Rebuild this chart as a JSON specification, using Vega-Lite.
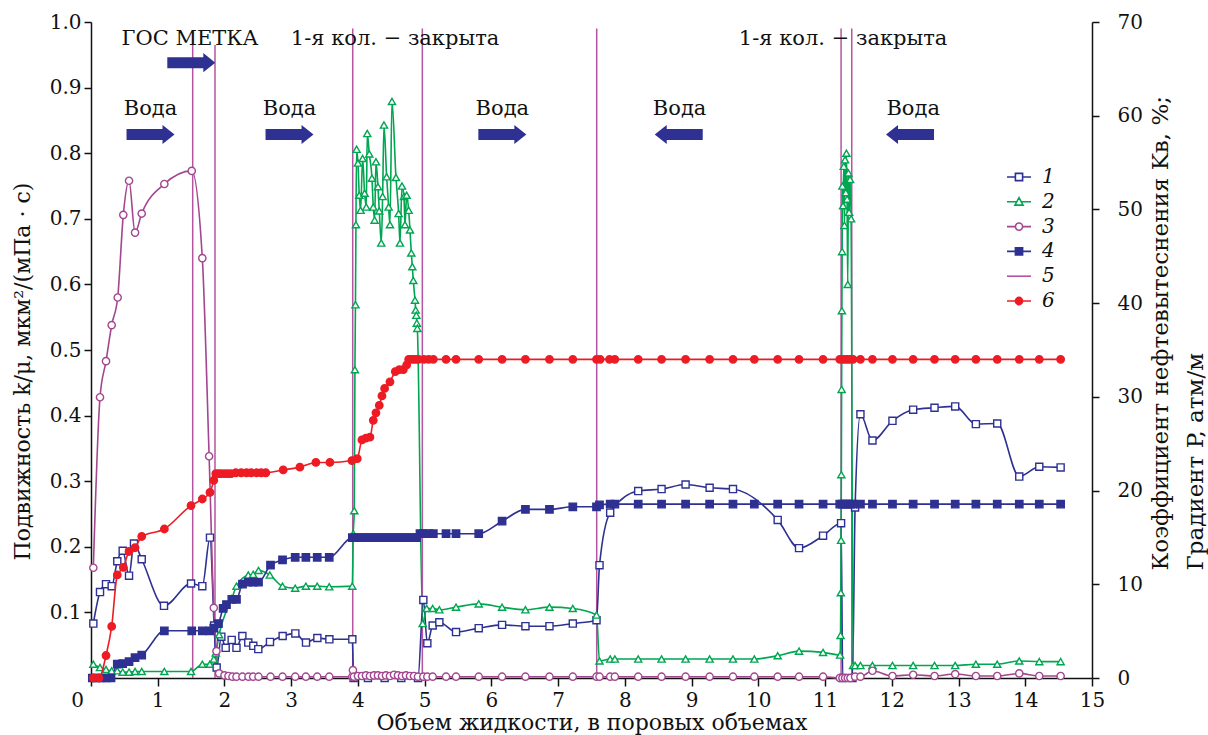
{
  "$schema": "https://vega.github.io/schema/vega-lite/v6.json",
  "width": 1001,
  "height": 656,
  "autosize": {"type": "none"},
  "padding": {"left": 91, "top": 22, "right": 116, "bottom": 57},
  "background": "white",
  "config": {
    "view": {"stroke": null},
    "font": "DejaVu Serif",
    "axis": {"grid": false, "domainColor": "#111", "tickColor": "#111", "domainWidth": 1.5, "tickWidth": 1.5, "labelColor": "#111", "titleColor": "#111", "labelFont": "DejaVu Serif", "titleFont": "DejaVu Serif", "labelFontSize": 20, "titleFontSize": 22, "titleFontWeight": "normal", "labelOverlap": false, "labelFlush": false}
  },
  "datasets": {
    "pts": [
      {"s":"1","x":0.035,"v":0.083},{"s":"1","x":0.135,"v":0.131},{"s":"1","x":0.225,"v":0.143},{"s":"1","x":0.31,"v":0.14},{"s":"1","x":0.394,"v":0.178},{"s":"1","x":0.475,"v":0.194},{"s":"1","x":0.57,"v":0.156},{"s":"1","x":0.644,"v":0.205},{"s":"1","x":0.76,"v":0.181},{"s":"1","x":1.094,"v":0.11},{"s":"1","x":1.499,"v":0.144},{"s":"1","x":1.668,"v":0.14},{"s":"1","x":1.783,"v":0.214},{"s":"1","x":1.845,"v":0.08},{"s":"1","x":1.883,"v":0.016},{"s":"1","x":1.953,"v":0.063},{"s":"1","x":2.018,"v":0.046},{"s":"1","x":2.108,"v":0.058},{"s":"1","x":2.18,"v":0.046},{"s":"1","x":2.268,"v":0.064},{"s":"1","x":2.357,"v":0.054},{"s":"1","x":2.432,"v":0.049},{"s":"1","x":2.507,"v":0.044},{"s":"1","x":2.682,"v":0.055},{"s":"1","x":2.872,"v":0.064},{"s":"1","x":3.062,"v":0.068},{"s":"1","x":3.222,"v":0.054},{"s":"1","x":3.392,"v":0.061},{"s":"1","x":3.572,"v":0.059},{"s":"1","x":3.916,"v":0.059},{"s":"1","x":3.935,"v":0},{"s":"1","x":4.15,"v":0},{"s":"1","x":4.4,"v":0},{"s":"1","x":4.65,"v":0},{"s":"1","x":4.9,"v":0},{"s":"1","x":4.98,"v":0.119},{"s":"1","x":5.04,"v":0.053},{"s":"1","x":5.12,"v":0.08},{"s":"1","x":5.22,"v":0.085},{"s":"1","x":5.47,"v":0.07},{"s":"1","x":5.81,"v":0.076},{"s":"1","x":6.16,"v":0.081},{"s":"1","x":6.51,"v":0.079},{"s":"1","x":6.87,"v":0.079},{"s":"1","x":7.22,"v":0.083},{"s":"1","x":7.575,"v":0.088},{"s":"1","x":7.62,"v":0.172},{"s":"1","x":7.78,"v":0.252},{"s":"1","x":8.2,"v":0.285},{"s":"1","x":8.55,"v":0.288},{"s":"1","x":8.91,"v":0.295},{"s":"1","x":9.27,"v":0.29},{"s":"1","x":9.62,"v":0.288},{"s":"1","x":10.29,"v":0.241},{"s":"1","x":10.61,"v":0.198},{"s":"1","x":10.97,"v":0.217},{"s":"1","x":11.24,"v":0.236},{"s":"1","x":11.265,"v":0},{"s":"1","x":11.41,"v":0},{"s":"1","x":11.45,"v":0.26},{"s":"1","x":11.53,"v":0.402},{"s":"1","x":11.71,"v":0.362},{"s":"1","x":12.01,"v":0.392},{"s":"1","x":12.32,"v":0.409},{"s":"1","x":12.64,"v":0.412},{"s":"1","x":12.95,"v":0.414},{"s":"1","x":13.26,"v":0.387},{"s":"1","x":13.58,"v":0.388},{"s":"1","x":13.91,"v":0.307},{"s":"1","x":14.21,"v":0.322},{"s":"1","x":14.53,"v":0.321},

      {"s":"2","x":0.035,"v":0.021},{"s":"2","x":0.135,"v":0.016},{"s":"2","x":0.225,"v":0.013},{"s":"2","x":0.31,"v":0.011},{"s":"2","x":0.394,"v":0.011},{"s":"2","x":0.475,"v":0.009},{"s":"2","x":0.57,"v":0.009},{"s":"2","x":0.66,"v":0.01},{"s":"2","x":0.76,"v":0.01},{"s":"2","x":1.099,"v":0.01},{"s":"2","x":1.499,"v":0.01},{"s":"2","x":1.668,"v":0.021},{"s":"2","x":1.78,"v":0.021},{"s":"2","x":1.84,"v":0.029},{"s":"2","x":1.87,"v":0.038},{"s":"2","x":1.92,"v":0.066},{"s":"2","x":2.11,"v":0.121},{"s":"2","x":2.18,"v":0.14},{"s":"2","x":2.357,"v":0.157},{"s":"2","x":2.43,"v":0.158},{"s":"2","x":2.51,"v":0.164},{"s":"2","x":2.68,"v":0.157},{"s":"2","x":2.87,"v":0.14},{"s":"2","x":3.06,"v":0.137},{"s":"2","x":3.22,"v":0.14},{"s":"2","x":3.39,"v":0.14},{"s":"2","x":3.57,"v":0.139},{"s":"2","x":3.915,"v":0.14},{"s":"2","x":3.93,"v":0.22},{"s":"2","x":3.945,"v":0.255},{"s":"2","x":3.955,"v":0.47},{"s":"2","x":3.963,"v":0.569},{"s":"2","x":3.97,"v":0.691},{"s":"2","x":3.98,"v":0.806},{"s":"2","x":4.0,"v":0.785},{"s":"2","x":4.02,"v":0.736},{"s":"2","x":4.04,"v":0.713},{"s":"2","x":4.07,"v":0.792},{"s":"2","x":4.1,"v":0.739},{"s":"2","x":4.125,"v":0.718},{"s":"2","x":4.14,"v":0.83},{"s":"2","x":4.17,"v":0.799},{"s":"2","x":4.21,"v":0.762},{"s":"2","x":4.23,"v":0.718},{"s":"2","x":4.25,"v":0.698},{"s":"2","x":4.27,"v":0.787},{"s":"2","x":4.3,"v":0.749},{"s":"2","x":4.32,"v":0.712},{"s":"2","x":4.35,"v":0.663},{"s":"2","x":4.37,"v":0.734},{"s":"2","x":4.39,"v":0.843},{"s":"2","x":4.43,"v":0.764},{"s":"2","x":4.46,"v":0.718},{"s":"2","x":4.48,"v":0.691},{"s":"2","x":4.51,"v":0.879},{"s":"2","x":4.57,"v":0.763},{"s":"2","x":4.61,"v":0.708},{"s":"2","x":4.63,"v":0.663},{"s":"2","x":4.66,"v":0.75},{"s":"2","x":4.69,"v":0.734},{"s":"2","x":4.705,"v":0.691},{"s":"2","x":4.73,"v":0.736},{"s":"2","x":4.76,"v":0.713},{"s":"2","x":4.78,"v":0.683},{"s":"2","x":4.8,"v":0.648},{"s":"2","x":4.815,"v":0.627},{"s":"2","x":4.83,"v":0.606},{"s":"2","x":4.855,"v":0.576},{"s":"2","x":4.865,"v":0.561},{"s":"2","x":4.875,"v":0.553},{"s":"2","x":4.882,"v":0.541},{"s":"2","x":4.89,"v":0.533},{"s":"2","x":4.97,"v":0.083},{"s":"2","x":5.03,"v":0.106},{"s":"2","x":5.12,"v":0.106},{"s":"2","x":5.22,"v":0.104},{"s":"2","x":5.47,"v":0.108},{"s":"2","x":5.81,"v":0.113},{"s":"2","x":6.16,"v":0.108},{"s":"2","x":6.51,"v":0.104},{"s":"2","x":6.87,"v":0.108},{"s":"2","x":7.22,"v":0.106},{"s":"2","x":7.575,"v":0.096},{"s":"2","x":7.62,"v":0.026},{"s":"2","x":7.78,"v":0.029},{"s":"2","x":7.85,"v":0.029},{"s":"2","x":8.2,"v":0.029},{"s":"2","x":8.55,"v":0.029},{"s":"2","x":8.91,"v":0.029},{"s":"2","x":9.27,"v":0.029},{"s":"2","x":9.62,"v":0.029},{"s":"2","x":9.94,"v":0.029},{"s":"2","x":10.29,"v":0.034},{"s":"2","x":10.61,"v":0.041},{"s":"2","x":10.97,"v":0.039},{"s":"2","x":11.225,"v":0.035},{"s":"2","x":11.232,"v":0.065},{"s":"2","x":11.236,"v":0.13},{"s":"2","x":11.24,"v":0.21},{"s":"2","x":11.244,"v":0.31},{"s":"2","x":11.248,"v":0.44},{"s":"2","x":11.252,"v":0.56},{"s":"2","x":11.256,"v":0.65},{"s":"2","x":11.26,"v":0.75},{"s":"2","x":11.27,"v":0.72},{"s":"2","x":11.28,"v":0.78},{"s":"2","x":11.29,"v":0.69},{"s":"2","x":11.3,"v":0.79},{"s":"2","x":11.31,"v":0.74},{"s":"2","x":11.32,"v":0.8},{"s":"2","x":11.33,"v":0.73},{"s":"2","x":11.34,"v":0.6},{"s":"2","x":11.35,"v":0.77},{"s":"2","x":11.36,"v":0.71},{"s":"2","x":11.375,"v":0.76},{"s":"2","x":11.39,"v":0.7},{"s":"2","x":11.42,"v":0.019},{"s":"2","x":11.45,"v":0.019},{"s":"2","x":11.53,"v":0.019},{"s":"2","x":11.71,"v":0.019},{"s":"2","x":12.01,"v":0.019},{"s":"2","x":12.32,"v":0.019},{"s":"2","x":12.64,"v":0.019},{"s":"2","x":12.95,"v":0.019},{"s":"2","x":13.26,"v":0.021},{"s":"2","x":13.58,"v":0.021},{"s":"2","x":13.91,"v":0.026},{"s":"2","x":14.21,"v":0.025},{"s":"2","x":14.53,"v":0.025},

      {"s":"3","x":0.035,"v":0.168},{"s":"3","x":0.135,"v":0.428},{"s":"3","x":0.225,"v":0.483},{"s":"3","x":0.31,"v":0.538},{"s":"3","x":0.4,"v":0.58},{"s":"3","x":0.484,"v":0.706},{"s":"3","x":0.57,"v":0.758},{"s":"3","x":0.66,"v":0.679},{"s":"3","x":0.76,"v":0.708},{"s":"3","x":1.099,"v":0.753},{"s":"3","x":1.51,"v":0.773},{"s":"3","x":1.668,"v":0.64},{"s":"3","x":1.77,"v":0.338},{"s":"3","x":1.84,"v":0.107},{"s":"3","x":1.88,"v":0.041},{"s":"3","x":1.92,"v":0.007},{"s":"3","x":2.0,"v":0.004},{"s":"3","x":2.06,"v":0.003},{"s":"3","x":2.12,"v":0.002},{"s":"3","x":2.18,"v":0.002},{"s":"3","x":2.27,"v":0.002},{"s":"3","x":2.36,"v":0.002},{"s":"3","x":2.43,"v":0.002},{"s":"3","x":2.51,"v":0.002},{"s":"3","x":2.69,"v":0.002},{"s":"3","x":2.87,"v":0.002},{"s":"3","x":3.06,"v":0.002},{"s":"3","x":3.22,"v":0.002},{"s":"3","x":3.39,"v":0.002},{"s":"3","x":3.57,"v":0.002},{"s":"3","x":3.915,"v":0.002},{"s":"3","x":3.925,"v":0.012},{"s":"3","x":3.94,"v":0.002},{"s":"3","x":4.0,"v":0.003},{"s":"3","x":4.06,"v":0.003},{"s":"3","x":4.12,"v":0.004},{"s":"3","x":4.18,"v":0.003},{"s":"3","x":4.24,"v":0.004},{"s":"3","x":4.3,"v":0.004},{"s":"3","x":4.36,"v":0.003},{"s":"3","x":4.42,"v":0.004},{"s":"3","x":4.48,"v":0.003},{"s":"3","x":4.54,"v":0.005},{"s":"3","x":4.6,"v":0.004},{"s":"3","x":4.66,"v":0.003},{"s":"3","x":4.72,"v":0.004},{"s":"3","x":4.78,"v":0.003},{"s":"3","x":4.84,"v":0.003},{"s":"3","x":4.9,"v":0.002},{"s":"3","x":4.98,"v":0.002},{"s":"3","x":5.04,"v":0.002},{"s":"3","x":5.12,"v":0.002},{"s":"3","x":5.32,"v":0.002},{"s":"3","x":5.47,"v":0.002},{"s":"3","x":5.81,"v":0.002},{"s":"3","x":6.16,"v":0.002},{"s":"3","x":6.51,"v":0.002},{"s":"3","x":6.87,"v":0.002},{"s":"3","x":7.22,"v":0.002},{"s":"3","x":7.575,"v":0.002},{"s":"3","x":7.62,"v":0.002},{"s":"3","x":7.78,"v":0.002},{"s":"3","x":7.85,"v":0.002},{"s":"3","x":8.2,"v":0.002},{"s":"3","x":8.55,"v":0.002},{"s":"3","x":8.91,"v":0.002},{"s":"3","x":9.27,"v":0.002},{"s":"3","x":9.62,"v":0.002},{"s":"3","x":9.94,"v":0.002},{"s":"3","x":10.29,"v":0.002},{"s":"3","x":10.61,"v":0.002},{"s":"3","x":10.97,"v":0.002},{"s":"3","x":11.22,"v":0},{"s":"3","x":11.26,"v":0},{"s":"3","x":11.3,"v":0},{"s":"3","x":11.34,"v":0},{"s":"3","x":11.38,"v":0},{"s":"3","x":11.45,"v":0.002},{"s":"3","x":11.53,"v":0.002},{"s":"3","x":11.71,"v":0.011},{"s":"3","x":12.01,"v":0.003},{"s":"3","x":12.32,"v":0.005},{"s":"3","x":12.64,"v":0.003},{"s":"3","x":12.95,"v":0.006},{"s":"3","x":13.26,"v":0.003},{"s":"3","x":13.58,"v":0.003},{"s":"3","x":13.91,"v":0.007},{"s":"3","x":14.21,"v":0.003},{"s":"3","x":14.53,"v":0.003},

      {"s":"4","x":0.02,"v":0},{"s":"4","x":0.09,"v":0},{"s":"4","x":0.16,"v":0},{"s":"4","x":0.23,"v":0},{"s":"4","x":0.3,"v":0},{"s":"4","x":0.394,"v":0.021},{"s":"4","x":0.475,"v":0.022},{"s":"4","x":0.57,"v":0.025},{"s":"4","x":0.66,"v":0.031},{"s":"4","x":0.76,"v":0.035},{"s":"4","x":1.099,"v":0.072},{"s":"4","x":1.51,"v":0.072},{"s":"4","x":1.668,"v":0.072},{"s":"4","x":1.78,"v":0.072},{"s":"4","x":1.84,"v":0.076},{"s":"4","x":1.91,"v":0.083},{"s":"4","x":1.98,"v":0.106},{"s":"4","x":2.03,"v":0.112},{"s":"4","x":2.11,"v":0.12},{"s":"4","x":2.18,"v":0.12},{"s":"4","x":2.27,"v":0.143},{"s":"4","x":2.357,"v":0.146},{"s":"4","x":2.43,"v":0.146},{"s":"4","x":2.51,"v":0.146},{"s":"4","x":2.69,"v":0.172},{"s":"4","x":2.87,"v":0.18},{"s":"4","x":3.06,"v":0.184},{"s":"4","x":3.22,"v":0.184},{"s":"4","x":3.39,"v":0.184},{"s":"4","x":3.57,"v":0.184},{"s":"4","x":3.916,"v":0.214},{"s":"4","x":3.98,"v":0.214},{"s":"4","x":4.04,"v":0.214},{"s":"4","x":4.1,"v":0.214},{"s":"4","x":4.16,"v":0.214},{"s":"4","x":4.22,"v":0.214},{"s":"4","x":4.28,"v":0.214},{"s":"4","x":4.34,"v":0.214},{"s":"4","x":4.4,"v":0.214},{"s":"4","x":4.46,"v":0.214},{"s":"4","x":4.52,"v":0.214},{"s":"4","x":4.58,"v":0.214},{"s":"4","x":4.64,"v":0.214},{"s":"4","x":4.7,"v":0.214},{"s":"4","x":4.76,"v":0.214},{"s":"4","x":4.82,"v":0.214},{"s":"4","x":4.88,"v":0.214},{"s":"4","x":4.93,"v":0.22},{"s":"4","x":4.98,"v":0.22},{"s":"4","x":5.06,"v":0.22},{"s":"4","x":5.13,"v":0.22},{"s":"4","x":5.32,"v":0.22},{"s":"4","x":5.47,"v":0.22},{"s":"4","x":5.81,"v":0.22},{"s":"4","x":6.16,"v":0.239},{"s":"4","x":6.51,"v":0.257},{"s":"4","x":6.87,"v":0.257},{"s":"4","x":7.22,"v":0.261},{"s":"4","x":7.575,"v":0.261},{"s":"4","x":7.62,"v":0.264},{"s":"4","x":7.78,"v":0.265},{"s":"4","x":7.85,"v":0.265},{"s":"4","x":8.2,"v":0.265},{"s":"4","x":8.55,"v":0.265},{"s":"4","x":8.91,"v":0.265},{"s":"4","x":9.27,"v":0.265},{"s":"4","x":9.62,"v":0.265},{"s":"4","x":9.94,"v":0.265},{"s":"4","x":10.29,"v":0.265},{"s":"4","x":10.61,"v":0.265},{"s":"4","x":10.97,"v":0.265},{"s":"4","x":11.22,"v":0.265},{"s":"4","x":11.26,"v":0.265},{"s":"4","x":11.3,"v":0.265},{"s":"4","x":11.34,"v":0.265},{"s":"4","x":11.38,"v":0.265},{"s":"4","x":11.42,"v":0.265},{"s":"4","x":11.53,"v":0.265},{"s":"4","x":11.71,"v":0.265},{"s":"4","x":12.01,"v":0.265},{"s":"4","x":12.32,"v":0.265},{"s":"4","x":12.64,"v":0.265},{"s":"4","x":12.95,"v":0.265},{"s":"4","x":13.26,"v":0.265},{"s":"4","x":13.58,"v":0.265},{"s":"4","x":13.91,"v":0.265},{"s":"4","x":14.21,"v":0.265},{"s":"4","x":14.53,"v":0.265},

      {"s":"6","x":0.035,"v":0},{"s":"6","x":0.12,"v":0},{"s":"6","x":0.225,"v":2.4},{"s":"6","x":0.31,"v":5.5},{"s":"6","x":0.394,"v":11.0},{"s":"6","x":0.484,"v":11.8},{"s":"6","x":0.57,"v":13.5},{"s":"6","x":0.66,"v":13.9},{"s":"6","x":0.76,"v":15.1},{"s":"6","x":1.099,"v":15.9},{"s":"6","x":1.499,"v":18.4},{"s":"6","x":1.668,"v":19.1},{"s":"6","x":1.783,"v":19.8},{"s":"6","x":1.84,"v":21.1},{"s":"6","x":1.87,"v":21.8},{"s":"6","x":1.91,"v":21.8},{"s":"6","x":1.95,"v":21.8},{"s":"6","x":2.0,"v":21.8},{"s":"6","x":2.05,"v":21.8},{"s":"6","x":2.1,"v":21.8},{"s":"6","x":2.17,"v":21.9},{"s":"6","x":2.25,"v":21.9},{"s":"6","x":2.33,"v":21.9},{"s":"6","x":2.4,"v":21.9},{"s":"6","x":2.48,"v":21.9},{"s":"6","x":2.55,"v":21.9},{"s":"6","x":2.62,"v":21.9},{"s":"6","x":2.88,"v":22.2},{"s":"6","x":3.13,"v":22.5},{"s":"6","x":3.37,"v":23.0},{"s":"6","x":3.58,"v":23.0},{"s":"6","x":3.91,"v":23.2},{"s":"6","x":3.99,"v":23.4},{"s":"6","x":4.06,"v":25.4},{"s":"6","x":4.12,"v":25.6},{"s":"6","x":4.18,"v":25.7},{"s":"6","x":4.23,"v":27.5},{"s":"6","x":4.27,"v":28.3},{"s":"6","x":4.32,"v":29.1},{"s":"6","x":4.36,"v":30.1},{"s":"6","x":4.4,"v":30.9},{"s":"6","x":4.48,"v":31.6},{"s":"6","x":4.56,"v":32.7},{"s":"6","x":4.62,"v":32.9},{"s":"6","x":4.68,"v":32.9},{"s":"6","x":4.73,"v":33.4},{"s":"6","x":4.76,"v":34.0},{"s":"6","x":4.79,"v":34.0},{"s":"6","x":4.83,"v":34.0},{"s":"6","x":4.87,"v":34.0},{"s":"6","x":4.91,"v":34.0},{"s":"6","x":4.99,"v":34.0},{"s":"6","x":5.06,"v":34.0},{"s":"6","x":5.13,"v":34.0},{"s":"6","x":5.32,"v":34.0},{"s":"6","x":5.47,"v":34.0},{"s":"6","x":5.81,"v":34.0},{"s":"6","x":6.16,"v":34.0},{"s":"6","x":6.51,"v":34.0},{"s":"6","x":6.87,"v":34.0},{"s":"6","x":7.22,"v":34.0},{"s":"6","x":7.575,"v":34.0},{"s":"6","x":7.63,"v":34.0},{"s":"6","x":7.77,"v":34.0},{"s":"6","x":7.85,"v":34.0},{"s":"6","x":8.2,"v":34.0},{"s":"6","x":8.55,"v":34.0},{"s":"6","x":8.91,"v":34.0},{"s":"6","x":9.27,"v":34.0},{"s":"6","x":9.62,"v":34.0},{"s":"6","x":9.94,"v":34.0},{"s":"6","x":10.29,"v":34.0},{"s":"6","x":10.61,"v":34.0},{"s":"6","x":10.97,"v":34.0},{"s":"6","x":11.22,"v":34.0},{"s":"6","x":11.26,"v":34.0},{"s":"6","x":11.3,"v":34.0},{"s":"6","x":11.34,"v":34.0},{"s":"6","x":11.38,"v":34.0},{"s":"6","x":11.42,"v":34.0},{"s":"6","x":11.53,"v":34.0},{"s":"6","x":11.71,"v":34.0},{"s":"6","x":12.01,"v":34.0},{"s":"6","x":12.32,"v":34.0},{"s":"6","x":12.64,"v":34.0},{"s":"6","x":12.95,"v":34.0},{"s":"6","x":13.26,"v":34.0},{"s":"6","x":13.58,"v":34.0},{"s":"6","x":13.91,"v":34.0},{"s":"6","x":14.21,"v":34.0},{"s":"6","x":14.53,"v":34.0}
    ],
    "vlines": [{"x":1.524,"lo":0,"hi":0.965},{"x":1.858,"lo":0,"hi":0.965},{"x":3.922,"lo":0,"hi":0.99},{"x":4.965,"lo":0,"hi":0.99},{"x":7.578,"lo":0,"hi":0.99},{"x":11.24,"lo":0,"hi":0.99},{"x":11.4,"lo":0,"hi":0.99}],
    "notes": [
      {"x":1.484,"v":0.974,"label":"ГОС МЕТКА"},
      {"x":4.556,"v":0.974,"label":"1-я кол. − закрыта"},
      {"x":11.27,"v":0.974,"label":"1-я кол. − закрыта"},
      {"x":0.892,"v":0.867,"label":"Вода"},
      {"x":2.975,"v":0.867,"label":"Вода"},
      {"x":6.164,"v":0.867,"label":"Вода"},
      {"x":8.82,"v":0.867,"label":"Вода"},
      {"x":12.32,"v":0.867,"label":"Вода"}
    ],
    "arrows": [
      {"x":1.503,"v":0.938,"dir":"r"},
      {"x":0.892,"v":0.8285,"dir":"r"},
      {"x":2.975,"v":0.8285,"dir":"r"},
      {"x":6.164,"v":0.8285,"dir":"r"},
      {"x":8.807,"v":0.8285,"dir":"l"},
      {"x":12.273,"v":0.8285,"dir":"l"}
    ]
  },
  "encoding": {
    "x": {
      "field": "x", "type": "quantitative",
      "scale": {"domain": [0, 15], "nice": false, "zero": false},
      "axis": {"values": [0,1,2,3,4,5,6,7,8,9,10,11,12,13,14,15], "tickSize": 8, "labelPadding": 4, "labelOffset": {"expr": "datum.value === 0 ? -14 : 0"}, "title": "Объем жидкости, в поровых объемах", "titleY": 44, "titleBaseline": "middle"}
    }
  },
  "layer": [
    {
      "encoding": {
        "y": {
          "field": "v", "type": "quantitative",
          "scale": {"domain": [0, 1], "nice": false, "zero": false},
          "axis": {"values": [0.1,0.2,0.3,0.4,0.5,0.6,0.7,0.8,0.9,1], "format": ".1f", "tickSize": 7, "labelPadding": 3, "title": "Подвижность k/μ, мкм²/(мПа · с)", "titleAngle": 270, "titleX": -69, "titleY": 349, "titleAlign": "center", "titleBaseline": "middle"}
        }
      },
      "layer": [
        {
          "data": {"name": "vlines"},
          "mark": {"type": "rule", "color": "#b5559f", "strokeWidth": 1.5},
          "encoding": {"y": {"field": "lo", "type": "quantitative"}, "y2": {"field": "hi"}}
        },
        {
          "data": {"name": "pts"},
          "transform": [{"filter": "datum.s !== '6'"}],
          "mark": {"type": "line", "interpolate": "monotone", "strokeWidth": 1.6},
          "encoding": {
            "color": {
              "field": "s", "type": "nominal",
              "scale": {"domain": ["1","2","3","4","5","6"], "range": ["#2e3192","#00a651","#a2468f","#2e3192","#b5559f","#ed1c24"]},
              "legend": {
                "orient": "none", "legendX": 915, "legendY": 142, "title": null, "padding": 0, "rowPadding": 1.8,
                "labelFont": "DejaVu Serif", "labelFontSize": 20, "labelFontStyle": "italic", "labelColor": "#111", "labelOffset": 10,
                "symbolSize": 576, "symbolStrokeWidth": 1.6,
                "encoding": {
                  "symbols": {
                    "shape": {"value": {"expr": "datum.value === '1' ? 'M-1,0H-0.3M0.3,0H1M-0.3,-0.3H0.3V0.3H-0.3Z' : datum.value === '2' ? 'M-1,0H-0.19M0.19,0H1M0,-0.34L0.34,0.28H-0.34Z' : datum.value === '3' ? 'M-1,0H-0.3M0.3,0H1M-0.3,0A0.3,0.3,0,1,0,0.3,0A0.3,0.3,0,1,0,-0.3,0Z' : datum.value === '4' ? 'M-1,0H1M-0.3,-0.3H0.3V0.3H-0.3Z' : datum.value === '6' ? 'M-1,0H1M-0.3,0A0.3,0.3,0,1,0,0.3,0A0.3,0.3,0,1,0,-0.3,0Z' : 'M-1,0H1'"}},
                    "fill": {"value": {"expr": "indexof(['1','2','3'], datum.value) >= 0 ? 'white' : datum.value === '5' ? 'transparent' : scale('color', datum.value)"}},
                    "stroke": {"value": {"expr": "scale('color', datum.value)"}},
                    "strokeWidth": {"value": 1.6},
                    "size": {"value": 576},
                    "opacity": {"value": 1}
                  }
                }
              }
            }
          }
        },
        {
          "data": {"name": "pts"},
          "transform": [{"filter": "datum.s !== '6'"}],
          "mark": {"type": "point", "filled": false, "opacity": 1, "strokeWidth": 1.4},
          "encoding": {
            "color": {"field": "s", "type": "nominal", "scale": {"domain": ["1","2","3","4","5","6"], "range": ["#2e3192","#00a651","#a2468f","#2e3192","#b5559f","#ed1c24"]}, "legend": null},
            "fill": {"field": "s", "type": "nominal", "scale": {"domain": ["1","2","3","4","6"], "range": ["white","white","white","#2e3192","#ed1c24"]}, "legend": null},
            "shape": {"field": "s", "type": "nominal", "scale": {"domain": ["1","2","3","4","6"], "range": ["square","triangle-up","circle","square","circle"]}, "legend": null},
            "size": {"field": "s", "type": "nominal", "scale": {"domain": ["1","2","3","4","6"], "range": [50, 55, 42, 50, 50]}, "legend": null}
          }
        },
        {
          "data": {"name": "notes"},
          "mark": {"type": "text", "font": "DejaVu Serif", "fontSize": 21, "color": "#111", "align": "center", "baseline": "middle"},
          "encoding": {"text": {"field": "label"}}
        },
        {
          "data": {"name": "arrows"},
          "transform": [{"filter": "datum.dir === 'r'"}],
          "mark": {"type": "point", "shape": "M-1,-0.23H0.5V-0.4L1,0L0.5,0.4V0.23H-1Z", "size": 2304, "filled": true, "color": "#2e3192", "opacity": 1, "strokeWidth": 0}
        },
        {
          "data": {"name": "arrows"},
          "transform": [{"filter": "datum.dir === 'l'"}],
          "mark": {"type": "point", "shape": "M1,-0.23H-0.5V-0.4L-1,0L-0.5,0.4V0.23H1Z", "size": 2304, "filled": true, "color": "#2e3192", "opacity": 1, "strokeWidth": 0}
        }
      ]
    },
    {
      "data": {"name": "pts"},
      "transform": [{"filter": "datum.s === '6'"}],
      "encoding": {
        "y": {
          "field": "v", "type": "quantitative",
          "scale": {"domain": [0, 70], "nice": false, "zero": false},
          "axis": {"orient": "right", "values": [0,10,20,30,40,50,60,70], "tickSize": 7, "labelPadding": 18, "labelAlign": "left", "title": ["Коэффициент нефтевытеснения Kв, %;", "Градиент P, атм/м"], "titleFontSize": 23, "titleAngle": 270, "titleX": 57, "titleY": 548, "titleAlign": "left", "titleBaseline": "top", "titleLineHeight": 35}
        },
        "color": {"field": "s", "type": "nominal", "scale": {"domain": ["1","2","3","4","5","6"], "range": ["#2e3192","#00a651","#a2468f","#2e3192","#b5559f","#ed1c24"]}, "legend": null}
      },
      "layer": [
        {"mark": {"type": "line", "interpolate": "monotone", "strokeWidth": 1.6}},
        {
          "mark": {"type": "point", "filled": false, "opacity": 1, "strokeWidth": 1.4},
          "encoding": {
            "fill": {"field": "s", "type": "nominal", "scale": {"domain": ["1","2","3","4","6"], "range": ["white","white","white","#2e3192","#ed1c24"]}, "legend": null},
            "shape": {"field": "s", "type": "nominal", "scale": {"domain": ["1","2","3","4","6"], "range": ["square","triangle-up","circle","square","circle"]}, "legend": null},
            "size": {"field": "s", "type": "nominal", "scale": {"domain": ["1","2","3","4","6"], "range": [50, 55, 42, 50, 50]}, "legend": null}
          }
        }
      ]
    }
  ],
  "resolve": {"scale": {"y": "independent"}, "axis": {"y": "independent"}}
}
